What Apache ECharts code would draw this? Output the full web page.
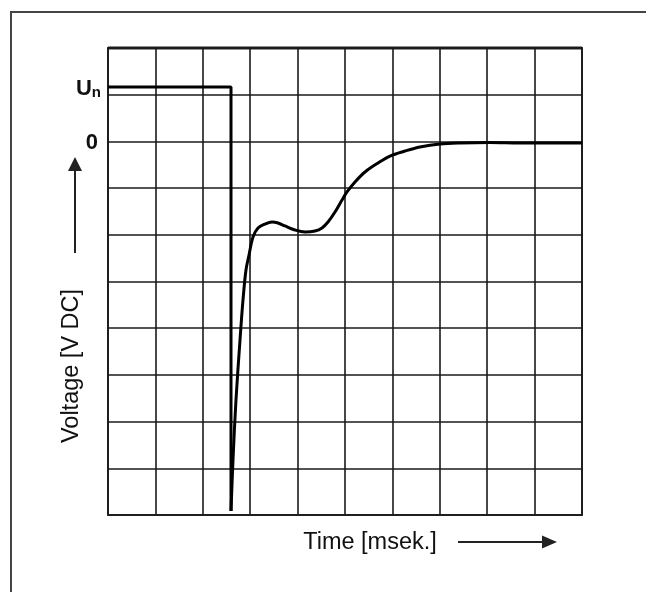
<!DOCTYPE html>
<html><head><meta charset="utf-8">
<script src="https://cdn.jsdelivr.net/npm/echarts@6/dist/echarts.min.js"></script>
<style>html,body{margin:0;padding:0;background:#fff}#c{width:646px;height:592px}</style>
</head><body><div id="c"></div><script>
// --- data ---
const xRange = [0, 10];
const yRange = [-8, 2];
const nominalLevel = 1.165;           // Un
const stepTime = 2.595;               // switch-off moment
const stepBottom = -7.914;
const stepLine = [[0, nominalLevel], [stepTime, nominalLevel], [stepTime, stepBottom]];
const responseX = [2.595, 2.637, 2.700, 2.785, 2.848, 2.911, 2.975, 3.059, 3.165, 3.312, 3.460, 3.586, 3.734, 3.945, 4.156, 4.367, 4.515, 4.641, 4.789, 4.937, 5.042, 5.211, 5.422, 5.696, 5.949, 6.266, 6.582, 7.004, 7.426, 8.059, 8.692, 10];
const responseY = [-7.914, -6.822, -5.537, -4.253, -3.396, -2.754, -2.432, -2.047, -1.854, -1.769, -1.726, -1.747, -1.811, -1.897, -1.940, -1.919, -1.854, -1.726, -1.512, -1.255, -1.083, -0.869, -0.655, -0.463, -0.313, -0.206, -0.120, -0.056, -0.034, -0.024, -0.034, -0.034];
const levelLabels = [{name: 'Un', value: [0, nominalLevel]}, {name: '0', value: [0, 0]}];
const xTitle = 'Time [msek.]';
const yTitle = 'Voltage [V DC]';

const response = responseX.map((x, i) => [x, responseY[i]]);
const font = '"Liberation Sans", Arial, sans-serif';

const chart = echarts.init(document.getElementById('c'), null, {renderer: 'canvas'});
chart.setOption({
  animation: false,
  backgroundColor: '#fff',
  grid: {left: 108, top: 48, width: 474, height: 467, show: true, borderColor: '#333', borderWidth: 2, backgroundColor: 'transparent'},
  xAxis: {type: 'value', min: xRange[0], max: xRange[1], interval: 1,
    axisLabel: {show: false}, axisTick: {show: false}, axisLine: {show: false},
    splitLine: {show: true, lineStyle: {color: '#1a1a1a', width: 1.6}}},
  yAxis: {type: 'value', min: yRange[0], max: yRange[1], interval: 1,
    axisLabel: {show: false}, axisTick: {show: false}, axisLine: {show: false},
    splitLine: {show: true, lineStyle: {color: '#1a1a1a', width: 1.6}}},
  series: [
    {type: 'line', data: stepLine, symbol: 'none', lineStyle: {color: '#000', width: 3},
     z: 3,
     markPoint: {symbol: 'circle', symbolSize: 0, silent: true,
       data: [
         {coord: levelLabels[0].value, label: {show: true, position: 'left', distance: 7, offset: [0, 1],
           formatter: '{u|U}{n|n}',
           rich: {u: {fontFamily: font, fontSize: 22, fontWeight: 'bold', color: '#111', verticalAlign: 'bottom', lineHeight: 24},
                  n: {fontFamily: font, fontSize: 15, fontWeight: 'bold', color: '#111', verticalAlign: 'bottom', lineHeight: 20}}}},
         {coord: levelLabels[1].value, label: {show: true, position: 'left', distance: 10, offset: [0, 2],
           formatter: levelLabels[1].name, fontFamily: font, fontSize: 22, fontWeight: 'bold', color: '#111'}}
       ]}},
    {type: 'line', data: response, symbol: 'none', smooth: 0.35, lineStyle: {color: '#000', width: 3}, z: 4}
  ],
  graphic: [
    {type: 'polyline', shape: {points: [[11, 700], [11, 12], [700, 12]]}, style: {stroke: '#444', lineWidth: 2, fill: null}},
    {type: 'line', shape: {x1: 108, y1: 48, x2: 582, y2: 48}, style: {stroke: '#222', lineWidth: 3}},
    {type: 'text', x: 72, y: 366, rotation: Math.PI / 2, style: {text: yTitle, font: '23.5px ' + font, fill: '#111', textAlign: 'center', textVerticalAlign: 'middle'}},
    {type: 'line', shape: {x1: 75, y1: 253, x2: 75, y2: 168}, style: {stroke: '#222', lineWidth: 2}},
    {type: 'polygon', shape: {points: [[75, 157], [68, 171], [82, 171]]}, style: {fill: '#222'}},
    {type: 'text', x: 370, y: 543, style: {text: xTitle, font: '23.5px ' + font, fill: '#111', textAlign: 'center', textVerticalAlign: 'middle'}},
    {type: 'line', shape: {x1: 458, y1: 542, x2: 545, y2: 542}, style: {stroke: '#222', lineWidth: 2}},
    {type: 'polygon', shape: {points: [[557, 542], [542, 535.5], [542, 548.5]]}, style: {fill: '#222'}}
  ]
});
</script></body></html>
